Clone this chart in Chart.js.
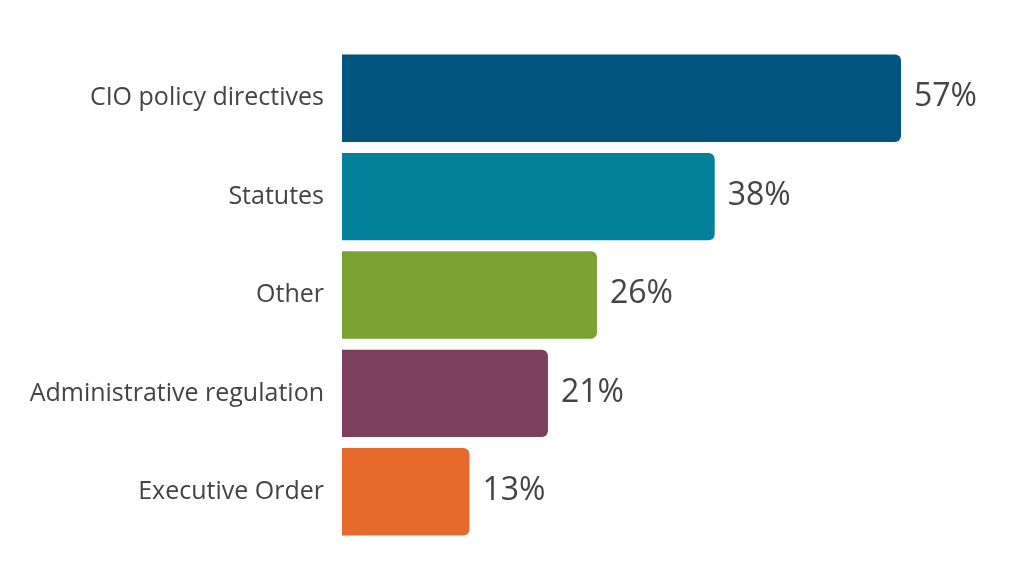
<!DOCTYPE html>
<html>

<head>
    <title>Policy sources</title>
    <meta charset="UTF-8">
    <script src="https://cdn.jsdelivr.net/npm/chart.js"></script>
    <style>
        html, body { margin: 0; padding: 0; background: #ffffff; }
        #chartContainer { width: 1024px; height: 588px; position: relative; }
    </style>
</head>

<body>
    <div id="chartContainer">
        <canvas id="barChart"></canvas>
    </div>

    <script>
        // Chart data
        var categories = ['CIO policy directives', 'Statutes', 'Other', 'Administrative regulation', 'Executive Order'];
        var shares = [57, 38, 26, 21, 13];
        var barColors = ['#00557f', '#05809a', '#7aa232', '#7d3f5e', '#e56a2b'];

        // Draw the "NN%" label just past the end of each bar
        var valueLabels = {
            id: 'valueLabels',
            afterDatasetsDraw: function (chart) {
                var ctx = chart.ctx;
                var meta = chart.getDatasetMeta(0);
                ctx.save();
                ctx.font = '32px "Open Sans"';
                ctx.fillStyle = '#444444';
                ctx.textAlign = 'left';
                ctx.textBaseline = 'middle';
                meta.data.forEach(function (bar, i) {
                    ctx.fillText(shares[i] + '%', bar.x + 13, bar.y - 1);
                });
                ctx.restore();
            }
        };

        document.addEventListener("DOMContentLoaded", function () {
            var ctx = document.getElementById('barChart').getContext('2d');
            new Chart(ctx, {
                type: 'bar',
                data: {
                    labels: categories,
                    datasets: [{
                        data: shares,
                        backgroundColor: barColors,
                        borderRadius: 6,
                        barPercentage: 0.888,
                        categoryPercentage: 1.0
                    }]
                },
                options: {
                    indexAxis: 'y',
                    responsive: true,
                    maintainAspectRatio: false,
                    animation: false,
                    layout: {
                        padding: { top: 49, bottom: 47, left: 0, right: 123 }
                    },
                    scales: {
                        x: {
                            display: false,
                            min: 0,
                            max: 57
                        },
                        y: {
                            grid: { display: false },
                            border: { display: false },
                            ticks: {
                                color: '#444444',
                                padding: 10,
                                font: { family: '"Open Sans"', size: 25 }
                            },
                            afterFit: function (scale) {
                                scale.width = 342; // bars start at the same x as the reference
                            }
                        }
                    },
                    plugins: {
                        legend: { display: false },
                        tooltip: { enabled: false }
                    }
                },
                plugins: [valueLabels]
            });
        });
    </script>
</body>

</html>
